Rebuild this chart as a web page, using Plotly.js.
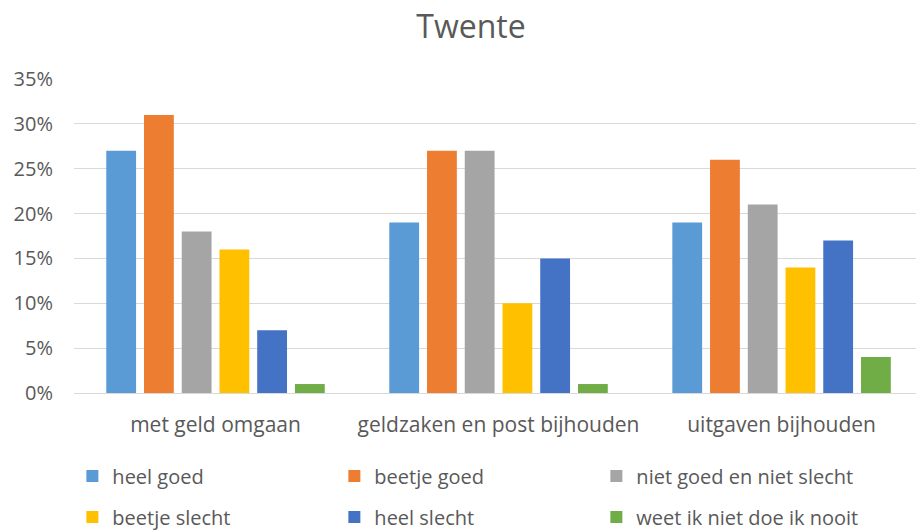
<!DOCTYPE html>
<html>
<head>
<meta charset="utf-8">
<script src="https://cdn.plot.ly/plotly-3.0.1.min.js"></script>
<style>html,body{margin:0;padding:0;background:#fff;}#chart{width:916px;height:532px;}</style>
</head>
<body>
<div id="chart"></div>
<script>
const categories = ["met geld omgaan", "geldzaken en post bijhouden", "uitgaven bijhouden"];
const seriesNames = ["heel goed", "beetje goed", "niet goed en niet slecht", "beetje slecht", "heel slecht", "weet ik niet doe ik nooit"];
const heelGoed = [27, 19, 19];
const beetjeGoed = [31, 27, 26];
const nietGoedNietSlecht = [18, 27, 21];
const beetjeSlecht = [16, 10, 14];
const heelSlecht = [7, 15, 17];
const weetIkNiet = [1, 1, 4];
const yTicks = [0, 5, 10, 15, 20, 25, 30, 35];
const yTickLabels = ["0%", "5%", "10%", "15%", "20%", "25%", "30%", "35%"];

const seriesValues = [heelGoed, beetjeGoed, nietGoedNietSlecht, beetjeSlecht, heelSlecht, weetIkNiet];
const colors = ["#5B9BD5", "#ED7D31", "#A5A5A5", "#FFC000", "#4472C4", "#70AD47"];
const legendIds = ["legend", "legend", "legend", "legend2", "legend2", "legend2"];
const legendWidths = [217, 217, 250, 217, 217, 250];

const FONT = "'Open Sans', 'Noto Sans', sans-serif";
const traces = seriesValues.map((vals, i) => ({
  type: "bar",
  name: seriesNames[i],
  x: categories,
  y: vals,
  marker: {color: colors[i], line: {width: 0}},
  legend: legendIds[i],
  legendwidth: legendWidths[i],
  hoverinfo: "skip"
}));

const legendCommon = {
  orientation: "h",
  xref: "container",
  yref: "container",
  x: 0.079,
  xanchor: "left",
  yanchor: "middle",
  entrywidthmode: "pixels",
  font: {family: FONT, size: 20, color: "#595959"},
  bgcolor: "rgba(0,0,0,0)",
  traceorder: "normal"
};

const layout = {
  width: 916,
  height: 532,
  margin: {l: 74, r: 0, t: 79, b: 139},
  paper_bgcolor: "#ffffff",
  plot_bgcolor: "#ffffff",
  font: {family: FONT, color: "#595959"},
  title: {
    text: "Twente",
    font: {family: FONT, size: 32, color: "#595959"},
    x: 471 / 916,
    xanchor: "center",
    xref: "container",
    y: 1 - 27 / 532,
    yanchor: "middle",
    yref: "container"
  },
  barmode: "group",
  bargap: 0.2,
  bargroupgap: 0.21,
  xaxis: {
    type: "category",
    range: [-0.5, 2.475],
    showgrid: false,
    showline: false,
    zeroline: false,
    ticks: "",
    ticklabelstandoff: 17,
    tickfont: {family: FONT, size: 21, color: "#595959"},
    fixedrange: true
  },
  yaxis: {
    range: [0, 35],
    tickvals: yTicks,
    ticktext: yTickLabels,
    showgrid: true,
    gridcolor: "#D9D9D9",
    gridwidth: 1,
    zeroline: true,
    zerolinecolor: "#D9D9D9",
    zerolinewidth: 1,
    showline: false,
    ticks: "",
    ticklabelstandoff: 20,
    tickfont: {family: FONT, size: 20, color: "#595959"},
    fixedrange: true
  },
  showlegend: true,
  legend: Object.assign({}, legendCommon, {y: 1 - 476 / 532}),
  legend2: Object.assign({}, legendCommon, {y: 1 - 517 / 532})
};

Plotly.newPlot("chart", traces, layout, {staticPlot: true, displayModeBar: false});
</script>
</body>
</html>
